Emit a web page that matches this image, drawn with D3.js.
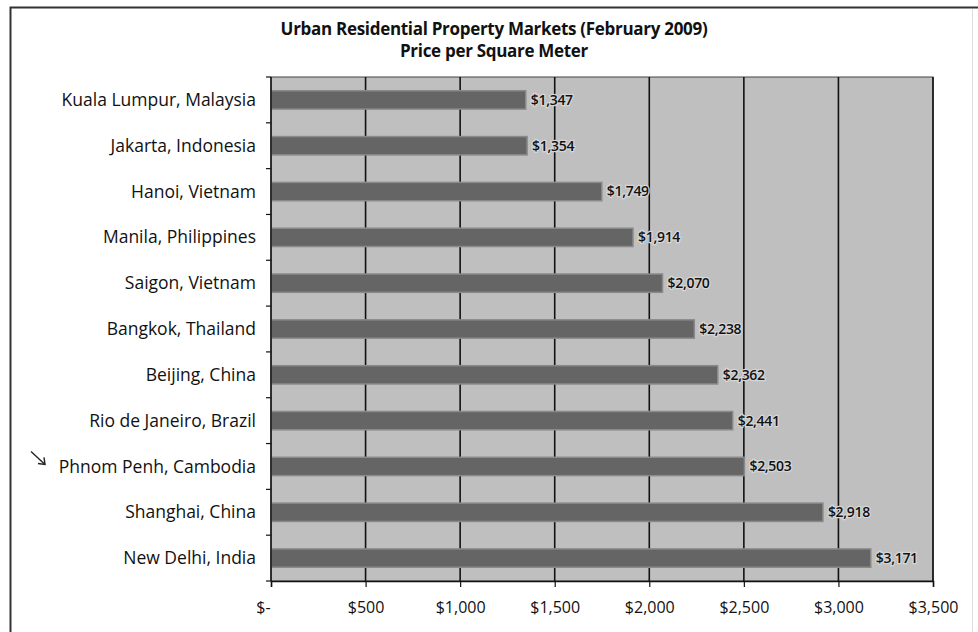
<!DOCTYPE html>
<html>
<head>
<meta charset="utf-8">
<script src="https://cdn.jsdelivr.net/npm/d3@7"></script>
<style>
  body { margin: 0; background: #fff; }
  text { font-family: "Open Sans", Lato, sans-serif; fill: #111; }
</style>
</head>
<body>
<div id="chart"></div>
<script>
// data
const cities = ["Kuala Lumpur, Malaysia", "Jakarta, Indonesia", "Hanoi, Vietnam", "Manila, Philippines",
  "Saigon, Vietnam", "Bangkok, Thailand", "Beijing, China", "Rio de Janeiro, Brazil",
  "Phnom Penh, Cambodia", "Shanghai, China", "New Delhi, India"];
const prices = [1347, 1354, 1749, 1914, 2070, 2238, 2362, 2441, 2503, 2918, 3171];
const xTicks = [0, 500, 1000, 1500, 2000, 2500, 3000, 3500];
const titleLines = ["Urban Residential Property Markets (February 2009)", "Price per Square Meter"];
const marked = "Phnom Penh, Cambodia";

const W = 978, H = 632;
let margin = {top: 77, right: 45, bottom: 51, left: 271};
let width = W - margin.left - margin.right,
    height = H - margin.top - margin.bottom;

let svg = d3.select("#chart").append("svg")
    .attr("width", W)
    .attr("height", H);

// outer frame
svg.append("path")
    .attr("d", "M10.5," + H + " V7.5 H" + W)
    .attr("fill", "none")
    .attr("stroke", "#333")
    .attr("stroke-width", 2);
svg.append("line")
    .attr("x1", 972.5).attr("x2", 972.5)
    .attr("y1", 9).attr("y2", H)
    .attr("stroke", "#ddd");

svg.selectAll(".title")
    .data(titleLines)
    .enter().append("text")
    .attr("class", "title")
    .attr("x", 494)
    .attr("y", (d, i) => 35 + i * 22)
    .attr("text-anchor", "middle")
    .style("font-weight", "bold")
    .style("font-size", "17px")
    .style("letter-spacing", "-0.3px")
    .text(d => d);

let g = svg.append("g")
    .attr("transform", "translate(" + margin.left + "," + margin.top + ")");

let x = d3.scaleLinear()
    .domain([0, 3500])
    .range([0, width]);

let y = d3.scaleBand()
    .domain(cities)
    .range([0, height])
    .paddingInner(0.6)
    .paddingOuter(0.3);

// plot background
g.append("rect")
    .attr("width", width)
    .attr("height", height)
    .attr("fill", "#bfbfbf")
    .attr("stroke", "#444")
    .attr("stroke-width", 1);

// vertical grid lines
g.selectAll(".grid")
    .data(xTicks.slice(1))
    .enter().append("line")
    .attr("x1", d => x(d))
    .attr("x2", d => x(d))
    .attr("y1", 0)
    .attr("y2", height)
    .attr("stroke", "#111")
    .attr("stroke-width", 1.6);

// bars with a lighter rim
g.selectAll(".bar")
    .data(prices)
    .enter().append("rect")
    .attr("class", "bar")
    .attr("x", 0)
    .attr("y", (d, i) => y(cities[i]))
    .attr("width", d => x(d))
    .attr("height", y.bandwidth())
    .attr("fill", "#656565")
    .attr("stroke", "#8a8a8a")
    .attr("stroke-width", 1.5);

g.selectAll(".val")
    .data(prices)
    .enter().append("text")
    .attr("class", "val")
    .attr("x", d => x(d) + 5)
    .attr("y", (d, i) => y(cities[i]) + y.bandwidth() / 2)
    .attr("dy", "0.35em")
    .style("font-size", "14px")
    .style("font-weight", "600")
    .style("letter-spacing", "-0.3px")
    .style("paint-order", "stroke")
    .style("stroke", "#d6d6d6")
    .style("stroke-width", 2.5)
    .text(d => "$" + d3.format(",")(d));

// y axis: ticks on band boundaries
let yAxis = g.append("g");
yAxis.append("line")
    .attr("y1", 0).attr("y2", height)
    .attr("stroke", "#111").attr("stroke-width", 1.5);
yAxis.selectAll(".ytick")
    .data(d3.range(cities.length + 1))
    .enter().append("line")
    .attr("x1", -5).attr("x2", 0)
    .attr("y1", i => i * height / cities.length)
    .attr("y2", i => i * height / cities.length)
    .attr("stroke", "#111").attr("stroke-width", 1.2);
yAxis.selectAll(".ylab")
    .data(cities)
    .enter().append("text")
    .attr("x", -15)
    .attr("y", d => y(d) + y.bandwidth() / 2)
    .attr("dy", "0.35em")
    .attr("text-anchor", "end")
    .style("font-size", "17.5px")
    .text(d => d);

// arrow marker next to Phnom Penh
let ay = margin.top + y(marked) + y.bandwidth() / 2;
svg.append("path")
    .attr("d", "M31," + (ay - 15) + " L45," + (ay - 2))
    .attr("stroke", "#222").attr("stroke-width", 1.4).attr("fill", "none");
svg.append("path")
    .attr("d", "M38," + (ay - 3) + " L45," + (ay - 2) + " L44," + (ay - 9))
    .attr("stroke", "#222").attr("stroke-width", 1.4).attr("fill", "none");

// x axis
let xAxis = g.append("g")
    .attr("transform", "translate(0," + height + ")")
    .call(d3.axisBottom(x).tickValues(xTicks).tickSize(6)
        .tickFormat(d => d === 0 ? "$-" : "$" + d3.format(",")(d)));
xAxis.select(".domain").attr("stroke", "#111").attr("stroke-width", 1.5);
xAxis.selectAll(".tick line").attr("stroke", "#111").attr("stroke-width", 1.2);
xAxis.selectAll(".tick text")
    .attr("dy", "1.45em")
    .style("font-family", "'Open Sans', sans-serif")
    .style("font-size", "16px")
    .attr("fill", "#111");
xAxis.select(".tick text").attr("dx", "-0.5em");
</script>
</body>
</html>
